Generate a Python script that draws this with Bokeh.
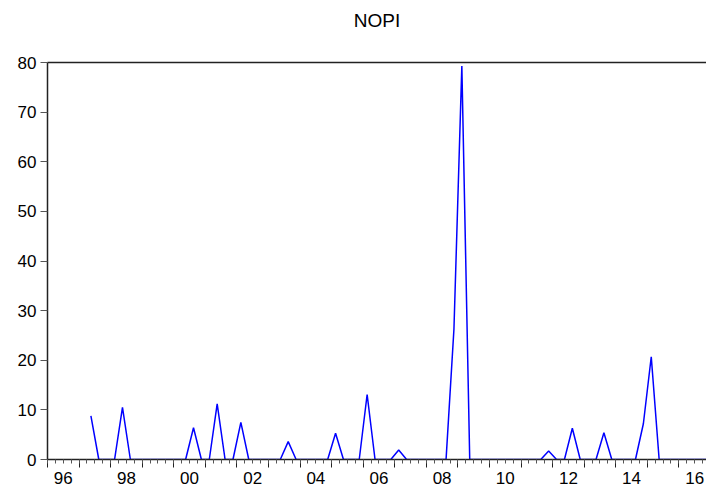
import pandas as pd
from bokeh.plotting import figure
from bokeh.models import LinearAxis, FixedTicker, Range1d, ColumnDataSource, CustomLabelingPolicy
from bokeh.embed import file_html
from bokeh.resources import INLINE

chart_title = "NOPI"
first_period = "1997Q2"
nopi = [8.8, 0, 0, 0, 10.5,
        0, 0, 0, 0, 0, 0, 0, 0,
        6.4, 0, 0, 11.2, 0, 0, 7.5,
        0, 0, 0, 0, 0, 3.6,
        0, 0, 0, 0, 0, 5.3,
        0, 0, 0, 13.1,
        0, 0, 0, 1.9,
        0, 0, 0, 0, 0, 0, 26.3, 79.3,
        0, 0, 0, 0, 0, 0, 0, 0, 0, 0, 1.7,
        0, 0, 6.3, 0, 0, 0, 5.4,
        0, 0, 0, 0, 7.2, 20.7,
        0, 0, 0, 0, 0, 0, 0]
axis_first_year = 1996
axis_last_year = 2016
label_years = [1996, 1998, 2000, 2002, 2004, 2006, 2008, 2010, 2012, 2014, 2016]
label_texts = ["96", "98", "00", "02", "04", "06", "08", "10", "12", "14", "16"]
y_ticks = [0, 10, 20, 30, 40, 50, 60, 70, 80]

periods = pd.period_range(first_period, periods=len(nopi), freq="Q")
xs = [p.year + (p.quarter - 0.5) / 4 for p in periods]
src = ColumnDataSource(dict(x=xs, y=nopi))

FONT = "Liberation Sans"
NO_LABELS = """
    for (const i of indices) { indices.unset(i) }
    return indices
"""

p = figure(width=706, height=493, output_backend="svg", toolbar_location=None,
           x_range=Range1d(axis_first_year, periods[-1].year + (periods[-1].quarter - 0.5) / 4),
           y_range=Range1d(y_ticks[0], y_ticks[-1]),
           x_axis_location=None,
           min_border_left=47, min_border_right=0, min_border_top=62, min_border_bottom=34)
p.title.visible = False
p.outline_line_color = None
p.xgrid.visible = False
p.ygrid.visible = False
p.background_fill_color = "white"
p.border_fill_color = "white"

p.line("x", "y", source=src, line_color="#0000FF", line_width=1.5)

# y axis
ya = p.yaxis[0]
ya.ticker = FixedTicker(ticks=y_ticks)
ya.major_tick_out = 7
ya.major_tick_in = 0
ya.minor_tick_out = 0
ya.minor_tick_in = 0
ya.axis_line_color = "#222222"
ya.axis_line_width = 1.5
ya.major_tick_line_color = "#555555"
ya.major_label_text_font = FONT
ya.major_label_text_font_size = "17px"
ya.major_label_text_color = "black"
ya.major_label_standoff = 4

# x axis ticks (years major, quarters minor), no labels drawn
year_ticks = list(range(axis_first_year, axis_last_year + 1))
quarter_ticks = [y + q / 4 for y in range(axis_first_year, axis_last_year + 1) for q in range(4)]
xa = LinearAxis(ticker=FixedTicker(ticks=year_ticks, minor_ticks=quarter_ticks))
xa.major_tick_out = 8
xa.major_tick_in = 0
xa.minor_tick_out = 4
xa.minor_tick_in = 0
xa.axis_line_color = "#222222"
xa.axis_line_width = 1.5
xa.major_tick_line_color = "#222222"
xa.minor_tick_line_color = "#555555"
xa.major_label_text_font_size = "0px"
xa.major_label_standoff = 0
xa.major_label_policy = CustomLabelingPolicy(code=NO_LABELS)
p.add_layout(xa, "below")

# x axis labels centered in each labelled year
label_pos = [y + 0.5 for y in label_years]
xl = LinearAxis(ticker=FixedTicker(ticks=label_pos, minor_ticks=[]))
xl.major_label_overrides = {pos: txt for pos, txt in zip(label_pos, label_texts)}
xl.major_tick_out = 0
xl.major_tick_in = 0
xl.minor_tick_out = 0
xl.minor_tick_in = 0
xl.axis_line_color = None
xl.major_label_text_font = FONT
xl.major_label_text_font_size = "17px"
xl.major_label_text_color = "black"
xl.major_label_standoff = 4
p.add_layout(xl, "below")

# top frame line, carrying the chart title as its axis label
ta = LinearAxis(ticker=FixedTicker(ticks=[], minor_ticks=[]))
ta.major_tick_out = 0
ta.major_tick_in = 0
ta.minor_tick_out = 0
ta.minor_tick_in = 0
ta.axis_line_color = "#222222"
ta.axis_line_width = 1.5
ta.major_label_text_font_size = "0px"
ta.major_label_standoff = 0
ta.major_label_policy = CustomLabelingPolicy(code=NO_LABELS)
ta.axis_label = chart_title
ta.axis_label_text_font = FONT
ta.axis_label_text_font_size = "19px"
ta.axis_label_text_font_style = "normal"
ta.axis_label_text_color = "black"
ta.axis_label_standoff = 32
p.add_layout(ta, "above")

open("out.html", "w").write(file_html(p, INLINE))
